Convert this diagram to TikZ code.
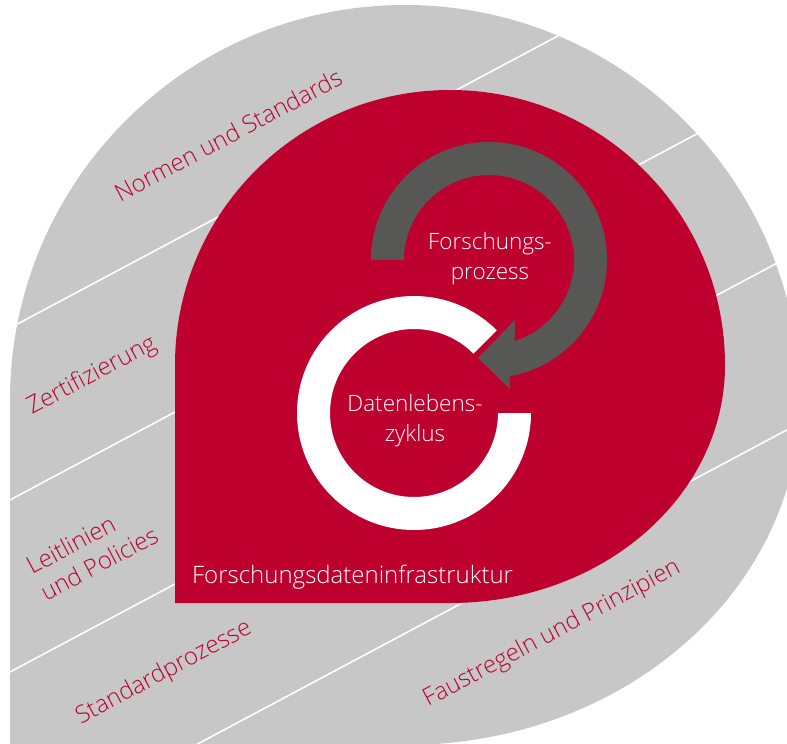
\documentclass[tikz,border=0pt]{standalone}
\usepackage{fontspec}
\setmainfont{Open Sans Light}
\usepackage{xcolor}

\definecolor{fdired}{RGB}{190,0,46}
\definecolor{bandgray}{RGB}{198,199,198}
\definecolor{arrowgray}{RGB}{87,87,86}

\begin{document}
\begin{tikzpicture}[
  x=1pt, y=-1pt,
  bandtext/.style={text=fdired, rotate=28, inner sep=0pt, font=\fontsize{24}{30}\selectfont},
  innertext/.style={text=white, align=center, inner sep=0pt, font=\fontsize{22.5}{30}\selectfont},
  stripe/.style={draw=white, line width=1.6pt}
]
\useasboundingbox (0,0) rectangle (787,744);

% outer bands
\fill[bandgray] (10,745) -- (10,400) arc[start angle=180, end angle=360, radius=395]
  arc[start angle=0, end angle=90, x radius=395, y radius=345] -- cycle;
\begin{scope}
  \clip (10,745) -- (10,400) arc[start angle=180, end angle=360, radius=395]
    arc[start angle=0, end angle=90, x radius=395, y radius=345] -- cycle;
  \foreach \b in {328,500,672,844}
    \draw[stripe] (0,{\b+5.3}) -- (800,{\b-421.1});
\end{scope}

% infrastructure
\fill[fdired] (175,603) -- (175,365) arc[start angle=180, end angle=360, radius=275]
  arc[start angle=0, end angle=90, x radius=275, y radius=238] -- cycle;

% research process arrow
\fill[arrowgray] (371,260) arc[start angle=180, end angle=440, radius=118]
  -- (510,389) -- (478,358) -- (515,320) -- (514.7,341)
  arc[start angle=432.4, end angle=180, radius=85] -- cycle;

% data life cycle ring
\fill[white] (531,413) arc[start angle=0, end angle=315, radius=117]
  -- (473.4,353.6) arc[start angle=315, end angle=0, radius=84] -- cycle;

\node[innertext] (fp) at (490,259) {Forschungs-\\prozess};
\node[innertext] (dlz) at (415,421) {Datenlebens-\\zyklus};
\node[innertext, font=\fontsize{24}{30}\selectfont, anchor=base west] (fdi) at (192,583) {Forschungsdateninfrastruktur};

\node[bandtext] (normen) at (228,135) {Normen und Standards};
\node[bandtext] (zert) at (92,376) {Zertifizierung};
\node[bandtext, align=left] (leit) at (92,550) {Leitlinien\\und Policies};
\node[bandtext] (std) at (164,673) {Standardprozesse};
\node[bandtext] (faust) at (552,634) {Faustregeln und Prinzipien};
\end{tikzpicture}
\end{document}
